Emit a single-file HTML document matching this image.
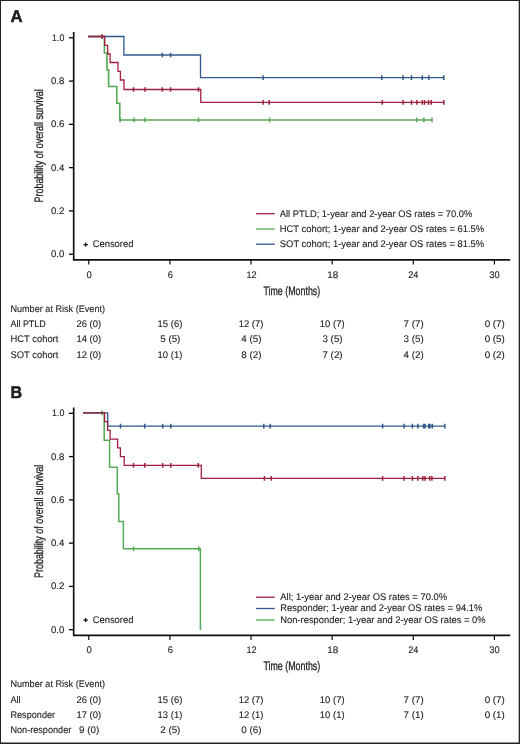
<!DOCTYPE html>
<html><head><meta charset="utf-8"><style>
html,body{margin:0;padding:0;background:#fff;}
svg{display:block;will-change:transform;}
text{font-family:"Liberation Sans", sans-serif;fill:#1c1c1c;text-rendering:geometricPrecision;}
</style></head><body>
<svg width="520" height="744" viewBox="0 0 520 744">
<rect x="0" y="0" width="520" height="744" fill="#fff"/>
<path d="M73.7,32.0 V259.9 H510.2" stroke="#111" stroke-width="1.7" fill="none"/>
<path d="M69.0,254.20 H73.7" stroke="#000" stroke-width="1.3"/>
<path d="M69.0,210.92 H73.7" stroke="#000" stroke-width="1.3"/>
<path d="M69.0,167.64 H73.7" stroke="#000" stroke-width="1.3"/>
<path d="M69.0,124.36 H73.7" stroke="#000" stroke-width="1.3"/>
<path d="M69.0,81.08 H73.7" stroke="#000" stroke-width="1.3"/>
<path d="M69.0,37.80 H73.7" stroke="#000" stroke-width="1.3"/>
<path d="M88.80,259.9 V264.59999999999997" stroke="#000" stroke-width="1.15"/>
<path d="M169.92,259.9 V264.59999999999997" stroke="#000" stroke-width="1.15"/>
<path d="M251.04,259.9 V264.59999999999997" stroke="#000" stroke-width="1.15"/>
<path d="M332.16,259.9 V264.59999999999997" stroke="#000" stroke-width="1.15"/>
<path d="M413.28,259.9 V264.59999999999997" stroke="#000" stroke-width="1.15"/>
<path d="M494.40,259.9 V264.59999999999997" stroke="#000" stroke-width="1.15"/>
<path d="M83.5,244.6H87.8M85.65,242.4V246.8" stroke="#000" stroke-width="1.15"/>
<path d="M88.10,36.50 H104.40 V53.00 H107.00 V69.80 H108.60 V86.50 H116.80 V103.20 H119.80 V119.95 H432.00" stroke="#56a956" stroke-width="1.65" fill="none"/><path d="M102.00,34.15V38.85" stroke="#56a956" stroke-width="1.5" fill="none"/><path d="M120.20,117.60V122.30M134.00,117.60V122.30M145.00,117.60V122.30M198.50,117.60V122.30M269.60,117.60V122.30M416.90,117.60V122.30M423.80,117.60V122.30M432.00,117.60V122.30" stroke="#56a956" stroke-width="1.5" fill="none"/>
<path d="M88.10,36.50 H123.90 V55.00 H200.50 V77.60 H443.80" stroke="#30598a" stroke-width="1.3" fill="none"/><path d="M162.30,52.65V57.35M170.60,52.65V57.35" stroke="#30598a" stroke-width="1.5" fill="none"/><path d="M263.10,75.25V79.95M381.80,75.25V79.95M403.10,75.25V79.95M411.50,75.25V79.95M422.30,75.25V79.95M428.90,75.25V79.95M443.80,75.25V79.95" stroke="#30598a" stroke-width="1.5" fill="none"/>
<path d="M88.10,36.50 H104.70 V45.40 H107.70 V54.00 H110.10 V62.50 H118.00 V71.40 H120.40 V80.00 H124.00 V89.50 H200.80 V102.35 H443.80" stroke="#a01f40" stroke-width="1.3" fill="none"/><path d="M102.00,34.15V38.85" stroke="#a01f40" stroke-width="1.5" fill="none"/><path d="M133.50,87.15V91.85M145.00,87.15V91.85M162.30,87.15V91.85M170.60,87.15V91.85M198.50,87.15V91.85" stroke="#a01f40" stroke-width="1.5" fill="none"/><path d="M263.10,100.00V104.70M269.20,100.00V104.70M382.30,100.00V104.70M403.10,100.00V104.70M411.50,100.00V104.70M416.90,100.00V104.70M422.30,100.00V104.70M424.60,100.00V104.70M428.50,100.00V104.70M431.20,100.00V104.70M443.80,100.00V104.70" stroke="#a01f40" stroke-width="1.5" fill="none"/>
<path d="M256,213.7 H274.8" stroke="#a01f40" stroke-width="1.3"/>
<path d="M256,229.0 H274.8" stroke="#56a956" stroke-width="1.3"/>
<path d="M256,244.2 H274.8" stroke="#30598a" stroke-width="1.3"/>
<path d="M73.7,407.5 V635.4 H510.2" stroke="#111" stroke-width="1.7" fill="none"/>
<path d="M69.0,629.70 H73.7" stroke="#000" stroke-width="1.3"/>
<path d="M69.0,586.42 H73.7" stroke="#000" stroke-width="1.3"/>
<path d="M69.0,543.14 H73.7" stroke="#000" stroke-width="1.3"/>
<path d="M69.0,499.86 H73.7" stroke="#000" stroke-width="1.3"/>
<path d="M69.0,456.58 H73.7" stroke="#000" stroke-width="1.3"/>
<path d="M69.0,413.30 H73.7" stroke="#000" stroke-width="1.3"/>
<path d="M88.80,635.4 V640.1" stroke="#000" stroke-width="1.15"/>
<path d="M169.92,635.4 V640.1" stroke="#000" stroke-width="1.15"/>
<path d="M251.04,635.4 V640.1" stroke="#000" stroke-width="1.15"/>
<path d="M332.16,635.4 V640.1" stroke="#000" stroke-width="1.15"/>
<path d="M413.28,635.4 V640.1" stroke="#000" stroke-width="1.15"/>
<path d="M494.40,635.4 V640.1" stroke="#000" stroke-width="1.15"/>
<path d="M83.5,620.1H87.8M85.65,617.9V622.3" stroke="#000" stroke-width="1.15"/>
<path d="M83.10,412.80 H104.20 V440.30 H109.60 V467.30 H117.30 V494.10 H118.80 V521.40 H123.40 V548.80 H200.40 V630.00 H200.40" stroke="#56a956" stroke-width="1.5" fill="none"/><path d="M102.00,410.45V415.15" stroke="#56a956" stroke-width="1.5" fill="none"/><path d="M133.60,546.45V551.15M198.80,546.45V551.15" stroke="#56a956" stroke-width="1.5" fill="none"/>
<path d="M83.10,412.80 H107.70 V426.10 H444.90" stroke="#30598a" stroke-width="1.3" fill="none"/><path d="M120.50,423.75V428.45M144.70,423.75V428.45M162.70,423.75V428.45M170.80,423.75V428.45M263.80,423.75V428.45M270.20,423.75V428.45M382.60,423.75V428.45M404.10,423.75V428.45M412.40,423.75V428.45M417.90,423.75V428.45M423.60,423.75V428.45M425.00,423.75V428.45M428.80,423.75V428.45M430.00,423.75V428.45M432.30,423.75V428.45M444.90,423.75V428.45" stroke="#30598a" stroke-width="1.5" fill="none"/>
<path d="M83.10,412.80 H104.60 V421.70 H107.60 V430.40 H110.10 V439.20 H117.60 V447.80 H120.40 V456.70 H124.20 V465.40 H201.30 V478.40 H444.90" stroke="#a01f40" stroke-width="1.3" fill="none"/><path d="M133.50,463.05V467.75M144.80,463.05V467.75M162.70,463.05V467.75M170.80,463.05V467.75M198.30,463.05V467.75" stroke="#a01f40" stroke-width="1.5" fill="none"/><path d="M264.40,476.05V480.75M271.20,476.05V480.75M382.60,476.05V480.75M404.10,476.05V480.75M412.40,476.05V480.75M417.90,476.05V480.75M422.80,476.05V480.75M425.00,476.05V480.75M429.70,476.05V480.75M431.90,476.05V480.75M444.90,476.05V480.75" stroke="#a01f40" stroke-width="1.5" fill="none"/>
<path d="M256,597.2 H274.8" stroke="#a01f40" stroke-width="1.3"/>
<path d="M256,608.5 H274.8" stroke="#30598a" stroke-width="1.3"/>
<path d="M256,620.0 H274.8" stroke="#56a956" stroke-width="1.3"/>
<text x="51.00" y="257.2" font-size="9.5" stroke="#1c1c1c" stroke-width="0.1" textLength="13.42" lengthAdjust="spacingAndGlyphs">0.0</text>
<text x="51.00" y="213.92" font-size="9.5" stroke="#1c1c1c" stroke-width="0.1" textLength="13.42" lengthAdjust="spacingAndGlyphs">0.2</text>
<text x="51.00" y="170.64" font-size="9.5" stroke="#1c1c1c" stroke-width="0.1" textLength="13.42" lengthAdjust="spacingAndGlyphs">0.4</text>
<text x="51.00" y="127.35999999999999" font-size="9.5" stroke="#1c1c1c" stroke-width="0.1" textLength="13.42" lengthAdjust="spacingAndGlyphs">0.6</text>
<text x="51.00" y="84.07999999999998" font-size="9.5" stroke="#1c1c1c" stroke-width="0.1" textLength="13.42" lengthAdjust="spacingAndGlyphs">0.8</text>
<text x="52.10" y="40.79999999999998" font-size="9.5" stroke="#1c1c1c" stroke-width="0.1" textLength="12.30" lengthAdjust="spacingAndGlyphs">1.0</text>
<text x="86.50" y="277.6" font-size="9.5" stroke="#1c1c1c" stroke-width="0.1" textLength="5.30" lengthAdjust="spacingAndGlyphs">0</text>
<text x="167.67" y="277.6" font-size="9.5" stroke="#1c1c1c" stroke-width="0.1" textLength="5.19" lengthAdjust="spacingAndGlyphs">6</text>
<text x="246.44" y="277.6" font-size="9.5" stroke="#1c1c1c" stroke-width="0.1" textLength="10.16" lengthAdjust="spacingAndGlyphs">12</text>
<text x="327.16" y="277.6" font-size="9.5" stroke="#1c1c1c" stroke-width="0.1" textLength="11.00" lengthAdjust="spacingAndGlyphs">18</text>
<text x="408.18" y="277.6" font-size="9.5" stroke="#1c1c1c" stroke-width="0.1" textLength="10.19" lengthAdjust="spacingAndGlyphs">24</text>
<text x="489.20" y="277.6" font-size="9.5" stroke="#1c1c1c" stroke-width="0.1" textLength="10.39" lengthAdjust="spacingAndGlyphs">30</text>
<text x="263.40" y="294.8" font-size="12.2" stroke="#1c1c1c" stroke-width="0.28" textLength="56.88" lengthAdjust="spacingAndGlyphs">Time (Months)</text>
<text transform="translate(42.9,202.0) rotate(-90)" x="-0.50" y="0" font-size="12.3" stroke="#1c1c1c" stroke-width="0.28" textLength="113.33" lengthAdjust="spacingAndGlyphs">Probability of overall survival</text>
<text x="10.50" y="22.0" font-size="17.0" font-weight="bold" stroke="#1c1c1c" stroke-width="0.5" textLength="12.08" lengthAdjust="spacingAndGlyphs">A</text>
<text x="92.70" y="247.4" font-size="9.6" stroke="#1c1c1c" stroke-width="0.1" textLength="40.70" lengthAdjust="spacingAndGlyphs">Censored</text>
<text x="279.80" y="216.6" font-size="9.6" stroke="#1c1c1c" stroke-width="0.1" textLength="192.47" lengthAdjust="spacingAndGlyphs">All PTLD; 1-year and 2-year OS rates = 70.0%</text>
<text x="279.80" y="231.9" font-size="9.6" stroke="#1c1c1c" stroke-width="0.1" textLength="204.40" lengthAdjust="spacingAndGlyphs">HCT cohort; 1-year and 2-year OS rates = 61.5%</text>
<text x="279.80" y="247.1" font-size="9.6" stroke="#1c1c1c" stroke-width="0.1" textLength="204.40" lengthAdjust="spacingAndGlyphs">SOT cohort; 1-year and 2-year OS rates = 81.5%</text>
<text x="10.40" y="311.9" font-size="9.6" stroke="#1c1c1c" stroke-width="0.1" textLength="94.67" lengthAdjust="spacingAndGlyphs">Number at Risk (Event)</text>
<text x="10.40" y="327.0" font-size="9.6" stroke="#1c1c1c" stroke-width="0.1" textLength="35.47" lengthAdjust="spacingAndGlyphs">All PTLD</text>
<text x="76.50" y="327.0" font-size="9.6" stroke="#1c1c1c" stroke-width="0.1" textLength="24.66" lengthAdjust="spacingAndGlyphs">26 (0)</text>
<text x="157.62" y="327.0" font-size="9.6" stroke="#1c1c1c" stroke-width="0.1" textLength="24.66" lengthAdjust="spacingAndGlyphs">15 (6)</text>
<text x="238.74" y="327.0" font-size="9.6" stroke="#1c1c1c" stroke-width="0.1" textLength="24.66" lengthAdjust="spacingAndGlyphs">12 (7)</text>
<text x="319.86" y="327.0" font-size="9.6" stroke="#1c1c1c" stroke-width="0.1" textLength="24.66" lengthAdjust="spacingAndGlyphs">10 (7)</text>
<text x="403.58" y="327.0" font-size="9.6" stroke="#1c1c1c" stroke-width="0.1" textLength="20.15" lengthAdjust="spacingAndGlyphs">7 (7)</text>
<text x="484.70" y="327.0" font-size="9.6" stroke="#1c1c1c" stroke-width="0.1" textLength="20.15" lengthAdjust="spacingAndGlyphs">0 (7)</text>
<text x="10.40" y="342.3" font-size="9.6" stroke="#1c1c1c" stroke-width="0.1" textLength="47.98" lengthAdjust="spacingAndGlyphs">HCT cohort</text>
<text x="76.50" y="342.3" font-size="9.6" stroke="#1c1c1c" stroke-width="0.1" textLength="24.66" lengthAdjust="spacingAndGlyphs">14 (0)</text>
<text x="160.22" y="342.3" font-size="9.6" stroke="#1c1c1c" stroke-width="0.1" textLength="20.15" lengthAdjust="spacingAndGlyphs">5 (5)</text>
<text x="241.34" y="342.3" font-size="9.6" stroke="#1c1c1c" stroke-width="0.1" textLength="20.15" lengthAdjust="spacingAndGlyphs">4 (5)</text>
<text x="322.46" y="342.3" font-size="9.6" stroke="#1c1c1c" stroke-width="0.1" textLength="20.15" lengthAdjust="spacingAndGlyphs">3 (5)</text>
<text x="403.58" y="342.3" font-size="9.6" stroke="#1c1c1c" stroke-width="0.1" textLength="20.15" lengthAdjust="spacingAndGlyphs">3 (5)</text>
<text x="484.70" y="342.3" font-size="9.6" stroke="#1c1c1c" stroke-width="0.1" textLength="20.15" lengthAdjust="spacingAndGlyphs">0 (5)</text>
<text x="10.40" y="357.6" font-size="9.6" stroke="#1c1c1c" stroke-width="0.1" textLength="47.99" lengthAdjust="spacingAndGlyphs">SOT cohort</text>
<text x="76.50" y="357.6" font-size="9.6" stroke="#1c1c1c" stroke-width="0.1" textLength="24.66" lengthAdjust="spacingAndGlyphs">12 (0)</text>
<text x="157.62" y="357.6" font-size="9.6" stroke="#1c1c1c" stroke-width="0.1" textLength="24.66" lengthAdjust="spacingAndGlyphs">10 (1)</text>
<text x="241.34" y="357.6" font-size="9.6" stroke="#1c1c1c" stroke-width="0.1" textLength="20.15" lengthAdjust="spacingAndGlyphs">8 (2)</text>
<text x="322.46" y="357.6" font-size="9.6" stroke="#1c1c1c" stroke-width="0.1" textLength="20.15" lengthAdjust="spacingAndGlyphs">7 (2)</text>
<text x="403.58" y="357.6" font-size="9.6" stroke="#1c1c1c" stroke-width="0.1" textLength="20.15" lengthAdjust="spacingAndGlyphs">4 (2)</text>
<text x="484.70" y="357.6" font-size="9.6" stroke="#1c1c1c" stroke-width="0.1" textLength="20.15" lengthAdjust="spacingAndGlyphs">0 (2)</text>
<text x="51.00" y="632.7" font-size="9.5" stroke="#1c1c1c" stroke-width="0.1" textLength="13.42" lengthAdjust="spacingAndGlyphs">0.0</text>
<text x="51.00" y="589.4200000000001" font-size="9.5" stroke="#1c1c1c" stroke-width="0.1" textLength="13.42" lengthAdjust="spacingAndGlyphs">0.2</text>
<text x="51.00" y="546.1400000000001" font-size="9.5" stroke="#1c1c1c" stroke-width="0.1" textLength="13.42" lengthAdjust="spacingAndGlyphs">0.4</text>
<text x="51.00" y="502.86" font-size="9.5" stroke="#1c1c1c" stroke-width="0.1" textLength="13.42" lengthAdjust="spacingAndGlyphs">0.6</text>
<text x="51.00" y="459.58000000000004" font-size="9.5" stroke="#1c1c1c" stroke-width="0.1" textLength="13.42" lengthAdjust="spacingAndGlyphs">0.8</text>
<text x="52.10" y="416.30000000000007" font-size="9.5" stroke="#1c1c1c" stroke-width="0.1" textLength="12.30" lengthAdjust="spacingAndGlyphs">1.0</text>
<text x="86.50" y="653.1" font-size="9.5" stroke="#1c1c1c" stroke-width="0.1" textLength="5.30" lengthAdjust="spacingAndGlyphs">0</text>
<text x="167.67" y="653.1" font-size="9.5" stroke="#1c1c1c" stroke-width="0.1" textLength="5.19" lengthAdjust="spacingAndGlyphs">6</text>
<text x="246.44" y="653.1" font-size="9.5" stroke="#1c1c1c" stroke-width="0.1" textLength="10.16" lengthAdjust="spacingAndGlyphs">12</text>
<text x="327.16" y="653.1" font-size="9.5" stroke="#1c1c1c" stroke-width="0.1" textLength="11.00" lengthAdjust="spacingAndGlyphs">18</text>
<text x="408.18" y="653.1" font-size="9.5" stroke="#1c1c1c" stroke-width="0.1" textLength="10.19" lengthAdjust="spacingAndGlyphs">24</text>
<text x="489.20" y="653.1" font-size="9.5" stroke="#1c1c1c" stroke-width="0.1" textLength="10.39" lengthAdjust="spacingAndGlyphs">30</text>
<text x="263.40" y="670.3" font-size="12.2" stroke="#1c1c1c" stroke-width="0.28" textLength="56.88" lengthAdjust="spacingAndGlyphs">Time (Months)</text>
<text transform="translate(42.9,577.5) rotate(-90)" x="-0.50" y="0" font-size="12.3" stroke="#1c1c1c" stroke-width="0.28" textLength="113.33" lengthAdjust="spacingAndGlyphs">Probability of overall survival</text>
<text x="10.55" y="397.5" font-size="17.0" font-weight="bold" stroke="#1c1c1c" stroke-width="0.5" textLength="11.61" lengthAdjust="spacingAndGlyphs">B</text>
<text x="92.70" y="622.9" font-size="9.6" stroke="#1c1c1c" stroke-width="0.1" textLength="40.70" lengthAdjust="spacingAndGlyphs">Censored</text>
<text x="280.30" y="600.1" font-size="9.6" stroke="#1c1c1c" stroke-width="0.1" textLength="166.77" lengthAdjust="spacingAndGlyphs">All; 1-year and 2-year OS rates = 70.0%</text>
<text x="280.30" y="611.4" font-size="9.6" stroke="#1c1c1c" stroke-width="0.1" textLength="202.06" lengthAdjust="spacingAndGlyphs">Responder; 1-year and 2-year OS rates = 94.1%</text>
<text x="280.30" y="622.9" font-size="9.6" stroke="#1c1c1c" stroke-width="0.1" textLength="205.27" lengthAdjust="spacingAndGlyphs">Non-responder; 1-year and 2-year OS rates = 0%</text>
<text x="10.40" y="687.4" font-size="9.6" stroke="#1c1c1c" stroke-width="0.1" textLength="94.67" lengthAdjust="spacingAndGlyphs">Number at Risk (Event)</text>
<text x="10.40" y="702.5" font-size="9.6" stroke="#1c1c1c" stroke-width="0.1" textLength="10.24" lengthAdjust="spacingAndGlyphs">All</text>
<text x="76.50" y="702.5" font-size="9.6" stroke="#1c1c1c" stroke-width="0.1" textLength="24.66" lengthAdjust="spacingAndGlyphs">26 (0)</text>
<text x="157.62" y="702.5" font-size="9.6" stroke="#1c1c1c" stroke-width="0.1" textLength="24.66" lengthAdjust="spacingAndGlyphs">15 (6)</text>
<text x="238.74" y="702.5" font-size="9.6" stroke="#1c1c1c" stroke-width="0.1" textLength="24.66" lengthAdjust="spacingAndGlyphs">12 (7)</text>
<text x="319.86" y="702.5" font-size="9.6" stroke="#1c1c1c" stroke-width="0.1" textLength="24.66" lengthAdjust="spacingAndGlyphs">10 (7)</text>
<text x="403.58" y="702.5" font-size="9.6" stroke="#1c1c1c" stroke-width="0.1" textLength="20.15" lengthAdjust="spacingAndGlyphs">7 (7)</text>
<text x="484.70" y="702.5" font-size="9.6" stroke="#1c1c1c" stroke-width="0.1" textLength="20.15" lengthAdjust="spacingAndGlyphs">0 (7)</text>
<text x="10.40" y="717.8" font-size="9.6" stroke="#1c1c1c" stroke-width="0.1" textLength="44.74" lengthAdjust="spacingAndGlyphs">Responder</text>
<text x="76.50" y="717.8" font-size="9.6" stroke="#1c1c1c" stroke-width="0.1" textLength="24.66" lengthAdjust="spacingAndGlyphs">17 (0)</text>
<text x="157.62" y="717.8" font-size="9.6" stroke="#1c1c1c" stroke-width="0.1" textLength="24.66" lengthAdjust="spacingAndGlyphs">13 (1)</text>
<text x="238.74" y="717.8" font-size="9.6" stroke="#1c1c1c" stroke-width="0.1" textLength="24.66" lengthAdjust="spacingAndGlyphs">12 (1)</text>
<text x="319.86" y="717.8" font-size="9.6" stroke="#1c1c1c" stroke-width="0.1" textLength="24.66" lengthAdjust="spacingAndGlyphs">10 (1)</text>
<text x="403.58" y="717.8" font-size="9.6" stroke="#1c1c1c" stroke-width="0.1" textLength="20.15" lengthAdjust="spacingAndGlyphs">7 (1)</text>
<text x="484.70" y="717.8" font-size="9.6" stroke="#1c1c1c" stroke-width="0.1" textLength="20.15" lengthAdjust="spacingAndGlyphs">0 (1)</text>
<text x="10.40" y="733.1" font-size="9.6" stroke="#1c1c1c" stroke-width="0.1" textLength="60.90" lengthAdjust="spacingAndGlyphs">Non-responder</text>
<text x="79.10" y="733.1" font-size="9.6" stroke="#1c1c1c" stroke-width="0.1" textLength="20.15" lengthAdjust="spacingAndGlyphs">9 (0)</text>
<text x="160.22" y="733.1" font-size="9.6" stroke="#1c1c1c" stroke-width="0.1" textLength="20.15" lengthAdjust="spacingAndGlyphs">2 (5)</text>
<text x="241.34" y="733.1" font-size="9.6" stroke="#1c1c1c" stroke-width="0.1" textLength="20.15" lengthAdjust="spacingAndGlyphs">0 (6)</text>
<path d="M0,0.5H520M0.5,0V744" stroke="#222" stroke-width="1.0" fill="none"/>
<path d="M519.35,0V744" stroke="#222" stroke-width="1.3" fill="none"/>
<path d="M0,743.2H520" stroke="#222" stroke-width="1.6" fill="none"/>
</svg>
</body></html>
